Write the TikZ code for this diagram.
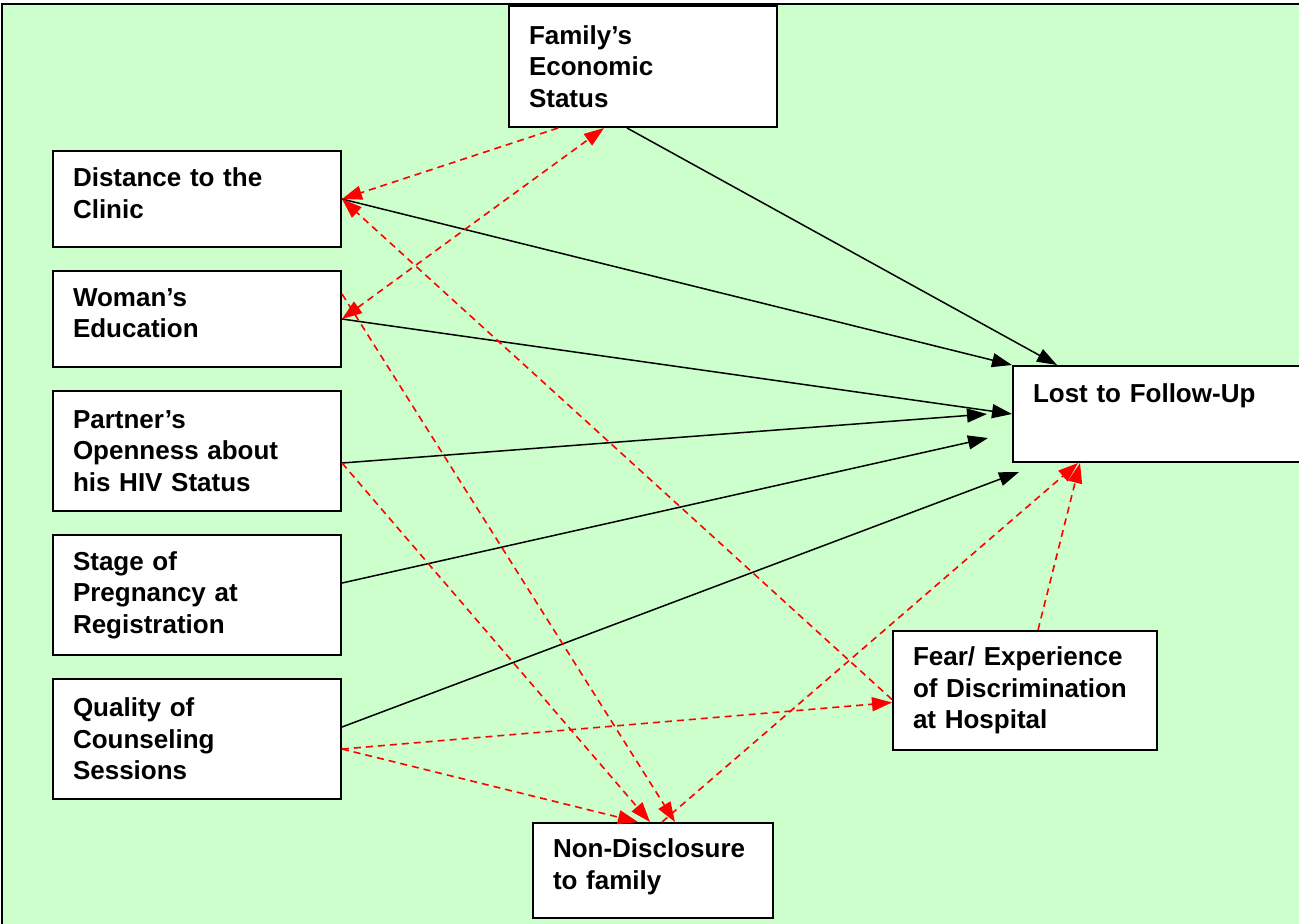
\documentclass[tikz,border=0pt]{standalone}
\usepackage{fontspec}
\setmainfont{Liberation Sans}
\usetikzlibrary{arrows.meta}
\definecolor{bggreen}{HTML}{CCFFCC}

\begin{document}
\begin{tikzpicture}[x=0.5pt,y=-0.5pt,>={Triangle[length=10pt,width=7pt]},
  factor/.style={draw,line width=1pt,fill=white,anchor=north west,align=left,inner xsep=10pt,font=\fontsize{13}{15.8}\selectfont\bfseries},
  effect/.style={->,line width=0.75pt},
  link/.style={red,line width=0.8pt,dash pattern=on 3.5pt off 2.5pt}]
\useasboundingbox (0,0) rectangle (1299,923);
\draw[fill=bggreen,line width=1pt] (2,4) rectangle (1320,940);

% factors
\node[factor,text width=114pt,minimum height=60.5pt] (fam) at (508,5) {Family’s\\Economic\\Status};
\node[factor,text width=124pt,minimum height=48pt,text depth=21.8pt] (dist) at (52,150) {Distance to the\\Clinic};
\node[factor,text width=124pt,minimum height=48pt,text depth=21.8pt] (wom) at (52,270) {Woman’s\\Education};
\node[factor,text width=124pt,minimum height=60pt] (part) at (52,390) {Partner’s\\Openness about\\his HIV Status};
\node[factor,text width=124pt,minimum height=60pt] (stage) at (52,534) {Stage of\\Pregnancy at\\Registration};
\node[factor,text width=124pt,minimum height=60pt] (qual) at (52,678) {Quality of\\Counseling\\Sessions};
\node[factor,text width=129pt,minimum height=48pt,text depth=20.5pt] (lost) at (1012,365) {Lost to Follow-Up};
\node[factor,text width=112pt,minimum height=59.5pt] (fear) at (892,630) {Fear/ Experience\\of Discrimination\\at Hospital};
\node[factor,text width=100pt,minimum height=47.5pt,text depth=22.5pt] (nond) at (532,822) {Non-Disclosure\\to family};

\coordinate (partend) at (987,414);
\coordinate (stageend) at (988,438);
\coordinate (qualend) at (1019,472);

% direct effects
\draw[effect] ([xshift=-8pt]fam.south) -- ([xshift=22.5pt]lost.north west);
\draw[effect] (dist.east) -- (lost.north west);
\draw[effect] (wom.east) -- (lost.west);
\draw[effect] ([yshift=-6pt]part.east) -- (partend);
\draw[effect] ([yshift=6pt]stage.east) -- (stageend);
\draw[effect] ([yshift=6pt]qual.east) -- (qualend);

% links between factors
\draw[link,->] ([xshift=-42.5pt]fam.south) -- (dist.east);
\draw[link,<->] (wom.east) -- ([xshift=-19.5pt]fam.south);
\draw[link,->] ([yshift=-4.5pt]fear.west) -- (dist.east);
\draw[link,->] ([yshift=12.5pt]wom.east) -- ([xshift=71.5pt]nond.north west);
\draw[link,->] ([yshift=-6pt]part.east) -- ([xshift=59pt]nond.north west);
\draw[link,->] ([yshift=-5pt]qual.east) -- ([yshift=-6pt]fear.west);
\draw[link,->] ([yshift=-5pt]qual.east) -- ([xshift=53pt]nond.north west);
\draw[link,->] ([xshift=65pt]nond.north west) -- ([xshift=33pt]lost.south west);
\draw[link,->] ([xshift=6.5pt]fear.north) -- ([xshift=34pt]lost.south west);
\end{tikzpicture}
\end{document}
